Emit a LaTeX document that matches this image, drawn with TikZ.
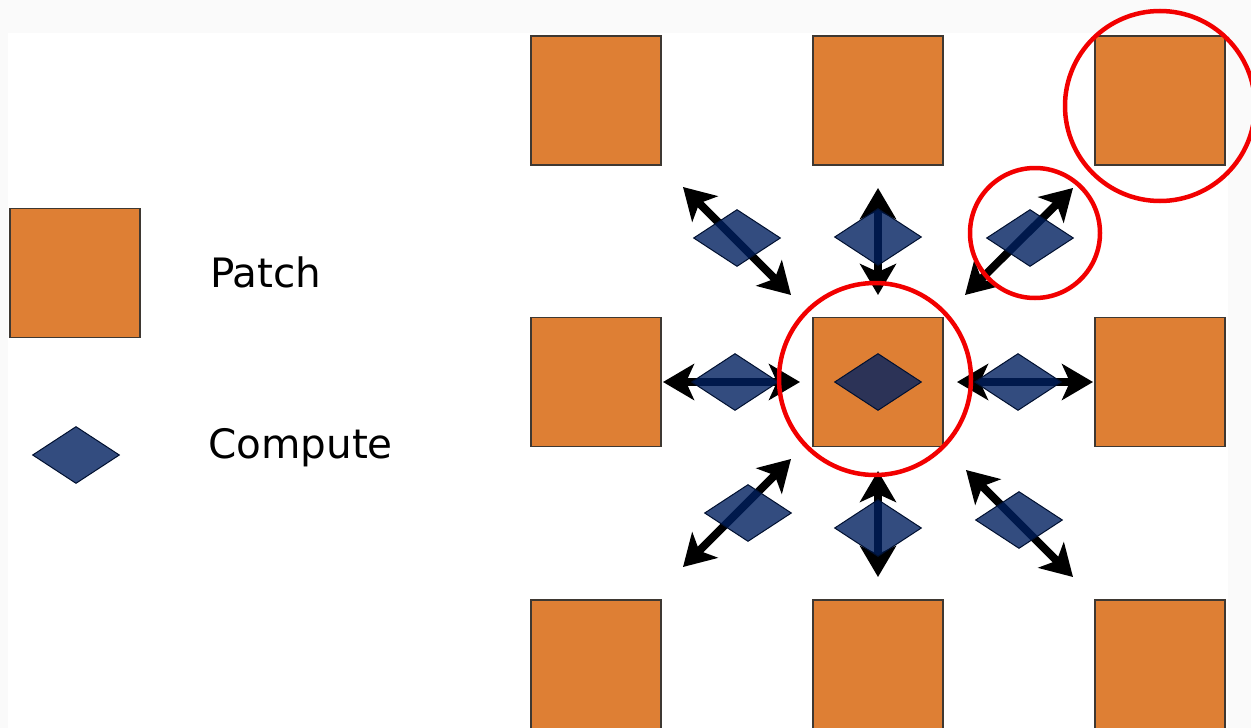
\documentclass[tikz,border=0pt]{standalone}
\usepackage{fontspec}
\setmainfont{DejaVu Sans}
\usetikzlibrary{shapes.geometric,arrows.meta}
\definecolor{patchorange}{RGB}{222,127,52}
\definecolor{patchborder}{RGB}{62,56,50}
\definecolor{compblue}{RGB}{0,32,96}
\definecolor{ringred}{RGB}{242,0,0}
\definecolor{bgtex}{RGB}{250,250,250}
\begin{document}
\begin{tikzpicture}[x=1pt,y=-1pt,
  patch/.style={rectangle, draw=patchborder, line width=1.5pt, fill=patchorange,
    minimum width=130pt, minimum height=129pt, inner sep=0pt},
  compute/.style={diamond, draw=compblue!50!black, line width=1pt, fill=compblue,
    fill opacity=0.8, minimum width=87pt, minimum height=57pt, inner sep=0pt},
  link/.style={line width=8pt,
    {Stealth[length=31pt,width=36pt,inset=8pt]}-{Stealth[length=31pt,width=36pt,inset=8pt]}},
  ring/.style={draw=ringred, line width=4.5pt},
  legendtext/.style={anchor=base west, inner sep=0pt, font=\fontsize{40.5}{48}\selectfont}]
\useasboundingbox (0,0) rectangle (1251,728);
\fill[bgtex] (0,0) rectangle (1251,728);
\fill[white] (8,33) rectangle (1228,728);

% legend
\node[patch] (legpatch) at (75,273) {};
\node[compute] (legcomp) at (76,455) {};
\node[legendtext] (legpatchtxt) at (210,287) {Patch};
\node[legendtext] (legcomptxt) at (208,458) {Compute};

% patches
\node[patch] (p11) at (596,100.5) {};
\node[patch] (p12) at (878,100.5) {};
\node[patch] (p13) at (1160,100.5) {};
\node[patch] (p21) at (596,382) {};
\node[patch] (p22) at (878,382) {};
\node[patch] (p23) at (1160,382) {};
\node[patch] (p31) at (596,664.5) {};
\node[patch] (p32) at (878,664.5) {};
\node[patch] (p33) at (1160,664.5) {};

% arrow end points
\coordinate (wA) at (663,382);  \coordinate (wB) at (800,382);
\coordinate (eA) at (957,382);  \coordinate (eB) at (1093,382);
\coordinate (nA) at (878,188);  \coordinate (nB) at (878,295);
\coordinate (sA) at (878,471);  \coordinate (sB) at (878,577);
\coordinate (nwA) at (683,187); \coordinate (nwB) at (791,295);
\coordinate (neA) at (965,295); \coordinate (neB) at (1073,188);
\coordinate (swA) at (683,567); \coordinate (swB) at (791,459);
\coordinate (seA) at (966,470); \coordinate (seB) at (1073,577);

\draw[link] (wA) -- (wB);
\draw[link] (eA) -- (eB);
\draw[link] (nA) -- (nB);
\draw[link] (sA) -- (sB);
\draw[link] (nwA) -- (nwB);
\draw[link] (neA) -- (neB);
\draw[link] (swA) -- (swB);
\draw[link] (seA) -- (seB);

% compute diamonds
\node[compute] (cW) at (735,382) {};
\node[compute] (cE) at (1018,382) {};
\node[compute] (cN) at (878,237) {};
\node[compute] (cS) at (878,528) {};
\node[compute] (cNW) at (737,238) {};
\node[compute] (cNE) at (1030,238) {};
\node[compute] (cSW) at (748,513) {};
\node[compute] (cSE) at (1019,520) {};
\node[compute] (cC) at (878,382) {};

% highlight rings
\draw[ring] (875,379) circle (96);
\draw[ring] (1160,106) circle (95);
\draw[ring] (1035,233) circle (65);
\end{tikzpicture}
\end{document}
